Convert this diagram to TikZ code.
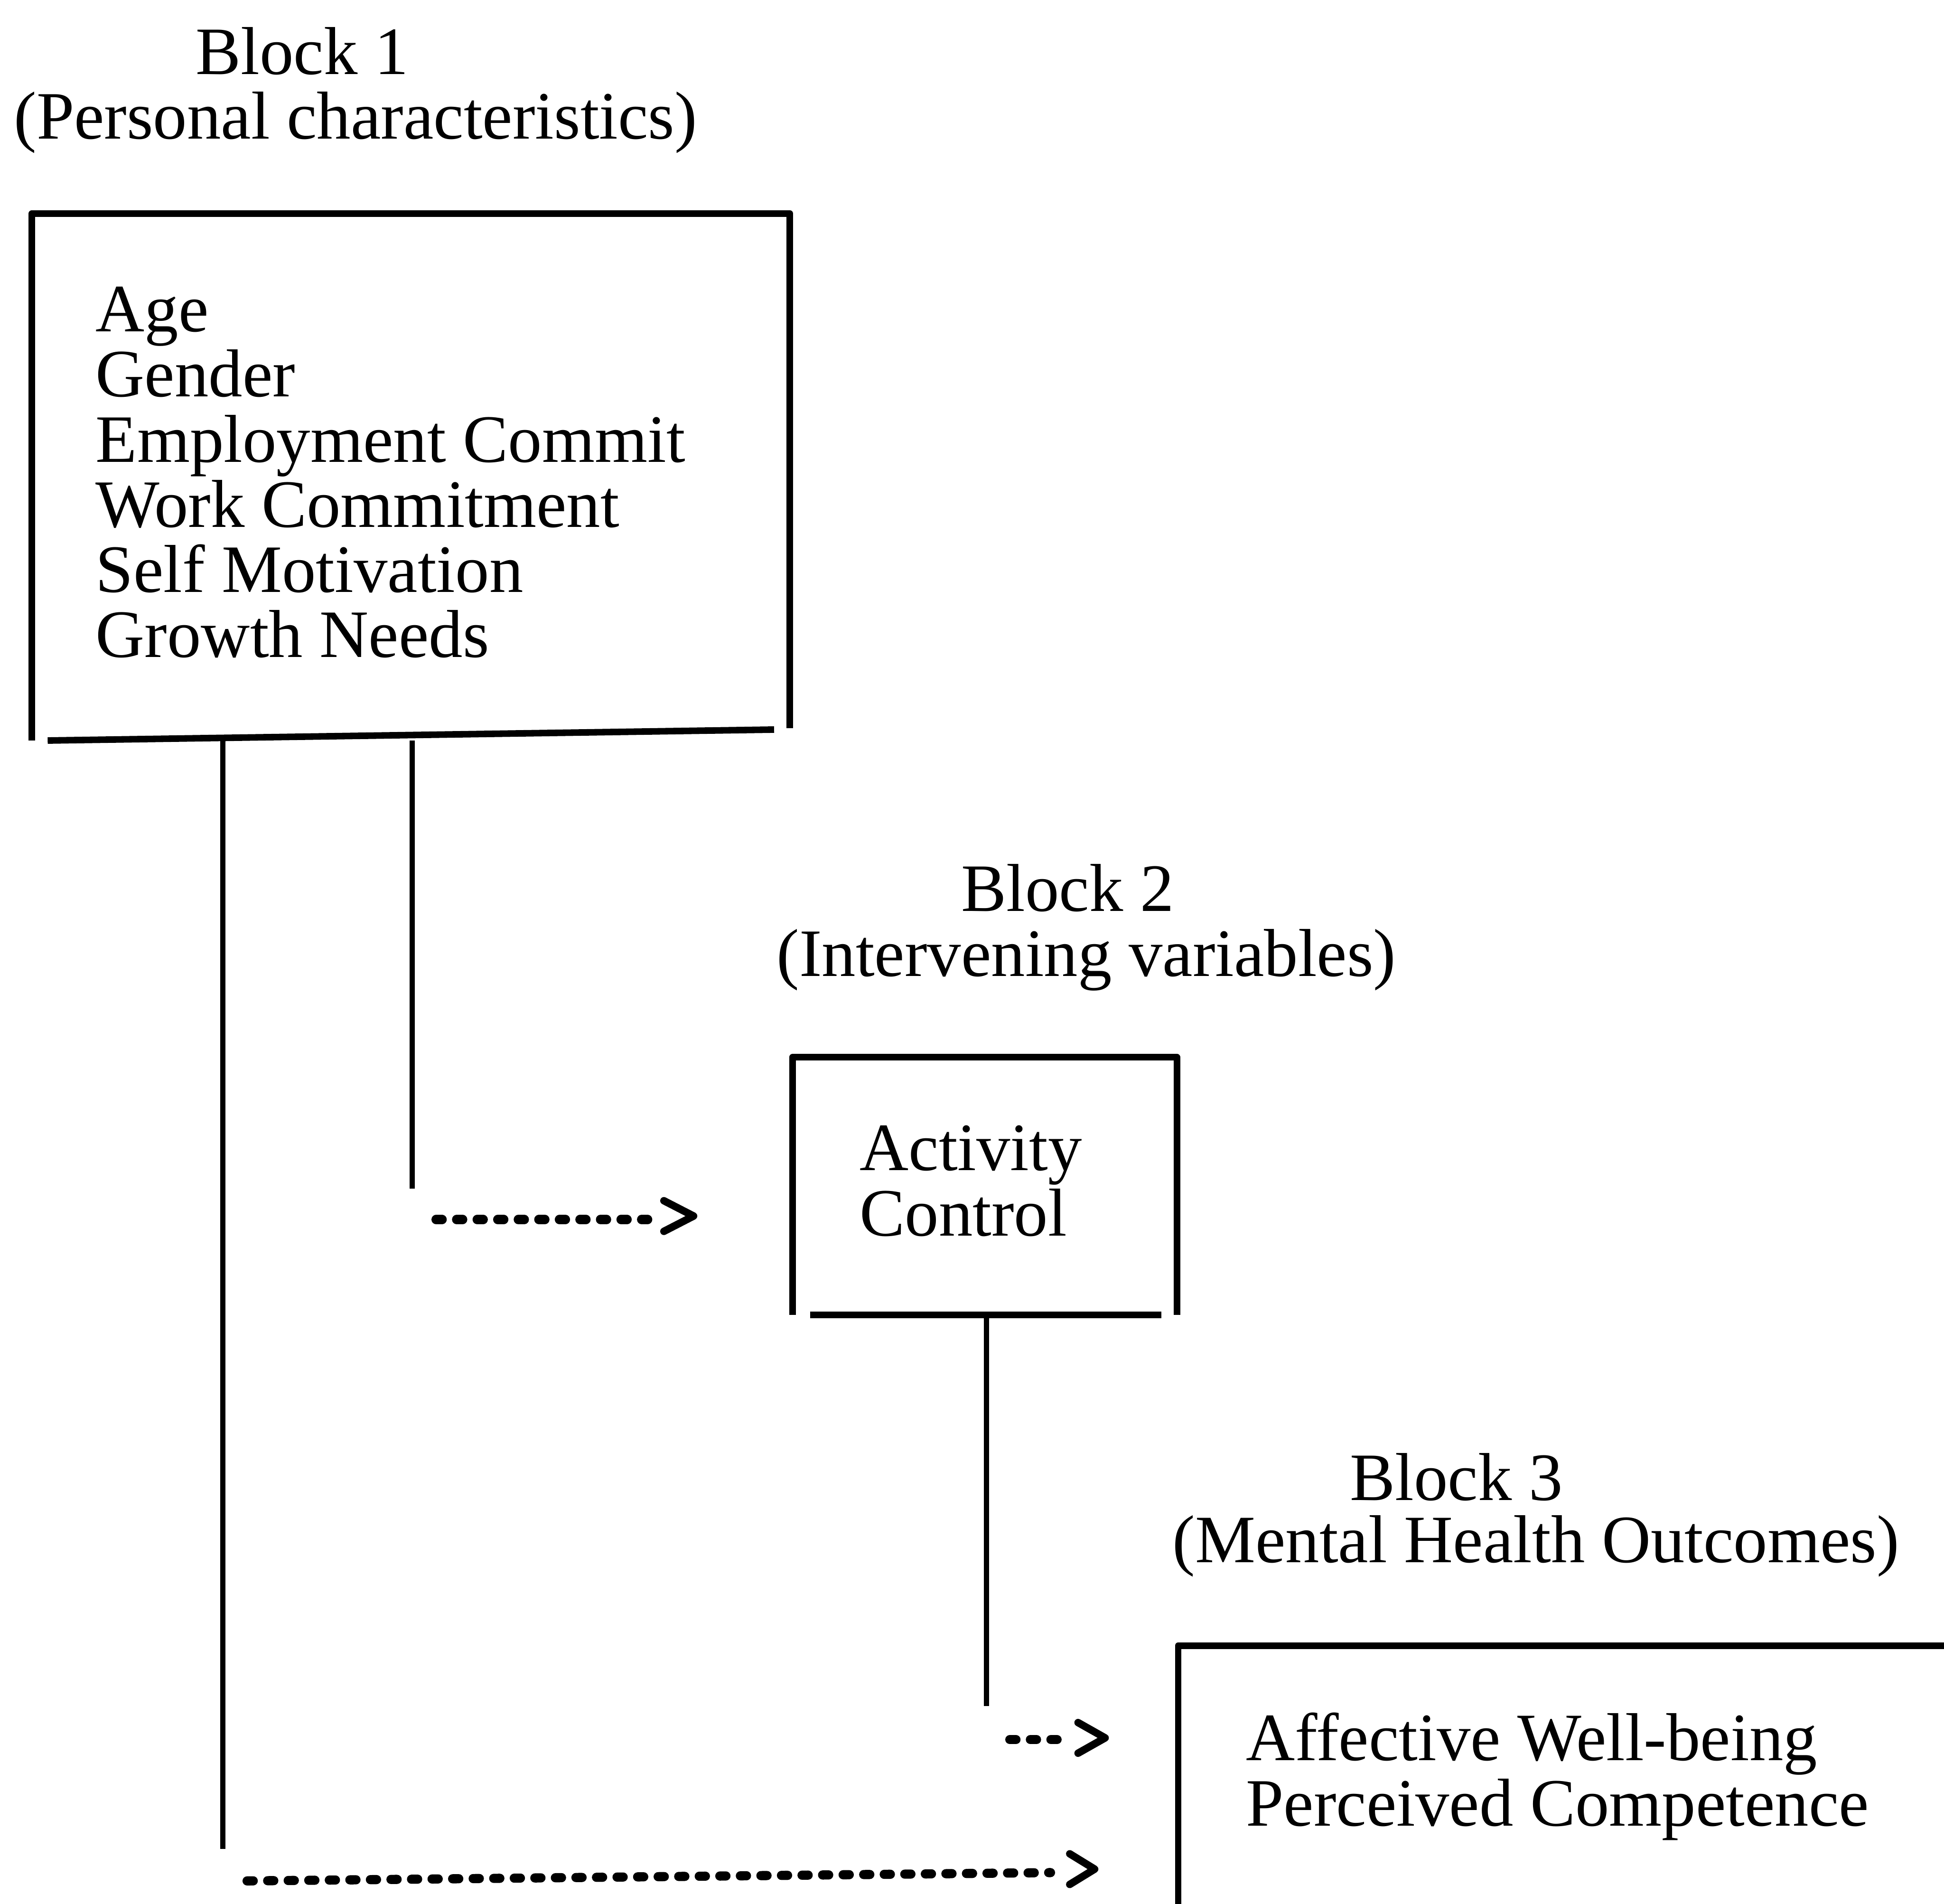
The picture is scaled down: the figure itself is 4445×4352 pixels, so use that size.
\documentclass[tikz,border=0pt]{standalone}
\usepackage{fontspec}
\setmainfont{Liberation Serif}

\begin{document}
\begin{tikzpicture}[x=0.1pt,y=-0.1pt,
    boxline/.style={line width=1.5pt, line join=round},
    link/.style={line width=1.2pt},
    dashlink/.style={line width=2.1pt, line cap=round, dash pattern=on 1.4pt off 3.3pt},
    chev/.style={line width=1.7pt, line join=round, line cap=round},
    txt/.style={inner sep=0pt, font=\fontsize{15.5pt}{14.9pt}\selectfont},
    blockframe/.style={inner sep=0pt, outer sep=0pt, anchor=north west}]
    \useasboundingbox (0,0) rectangle (4445,4352);

    %Block 1 (personal characteristics)
    \node[blockframe, minimum width=173.3pt, minimum height=120.5pt] (box1) at (73,488) {};
    \draw[boxline] (box1.south west) -- (box1.north west) -- (box1.north east) -- ([yshift=2.8pt]box1.south east);
    \draw[boxline] ([xshift=3.6pt]box1.south west) -- ([xshift=-3.6pt,yshift=2.5pt]box1.south east);
    % Text Node (base = last line)
    \node[txt, anchor=base west, align=left] (pers) at (217,1503) {Age\\Gender\\Employment Commit\\Work Commitment\\Self Motivation\\Growth Needs};
    % Text Node
    \node[txt, anchor=base] (b1head) at (691,170) {Block 1};
    % Text Node
    \node[txt, anchor=base] (b1sub) at (813,317) {(Personal characteristics)};

    %Block 2 (intervening variables)
    \node[blockframe, minimum width=87.9pt, minimum height=58.9pt] (box2) at (1812,2417) {};
    \draw[boxline] (box2.south west) -- (box2.north west) -- (box2.north east) -- (box2.south east);
    \draw[boxline] ([xshift=4pt]box2.south west) -- ([xshift=-3.5pt]box2.south east);
    % Text Node
    \node[txt, anchor=base west, align=left] (interv) at (1964,2825) {Activity\\Control};
    % Text Node
    \node[txt, anchor=base] (b2head) at (2441,2083) {Block 2};
    % Text Node
    \node[txt, anchor=base] (b2sub) at (2484,2232) {(Intervening variables)};

    %Block 3 (mental health outcomes), runs off the page
    \node[blockframe, minimum width=180pt, minimum height=70pt] (box3) at (2694,3762) {};
    \draw[boxline] (box3.south west) -- (box3.north west) -- (box3.north east);
    % Text Node
    \node[txt, anchor=base west, align=left] (outc) at (2847,4174) {Affective Well-being\\Perceived Competence};
    % Text Node
    \node[txt, anchor=base] (b3head) at (3330,3430) {Block 3};
    % Text Node
    \node[txt, anchor=base] (b3sub) at (3512,3572) {(Mental Health Outcomes)};

    %Straight Lines down from the boxes
    \coordinate (c1end) at (509,4227);
    \coordinate (c2end) at (943,2717);
    \coordinate (c3end) at (2256,3900);
    \draw[link] (box1.south -| c1end) -- (c1end);
    \draw[link] (box1.south -| c2end) -- (c2end);
    \draw[link] (box2.south -| c3end) -- (c3end);

    %Dashed arrows, block 1 -> block 2
    \coordinate (d1s) at (997,2788);
    \coordinate (d1e) at (1482,2788);
    \coordinate (d1tip) at (1586,2780);
    \draw[dashlink] (d1s) -- (d1e);
    \draw[chev] (d1tip) ++(-68,-35) -- (d1tip) -- ++(-68,35);
    %Dashed arrows, block 2 -> block 3
    \coordinate (d2s) at (2309,3977);
    \coordinate (d2e) at (2423,3977);
    \coordinate (d2tip) at (2527,3973);
    \draw[dashlink] (d2s) -- (d2e);
    \draw[chev] (d2tip) ++(-62,-35) -- (d2tip) -- ++(-62,35);
    %Dashed arrows, block 1 -> block 3
    \coordinate (d3s) at (565,4300);
    \coordinate (d3e) at (2402,4281);
    \coordinate (d3tip) at (2503,4273);
    \draw[dashlink] (d3s) -- (d3e);
    \draw[chev] (d3tip) ++(-57,-35) -- (d3tip) -- ++(-57,35);

\end{tikzpicture}
\end{document}
